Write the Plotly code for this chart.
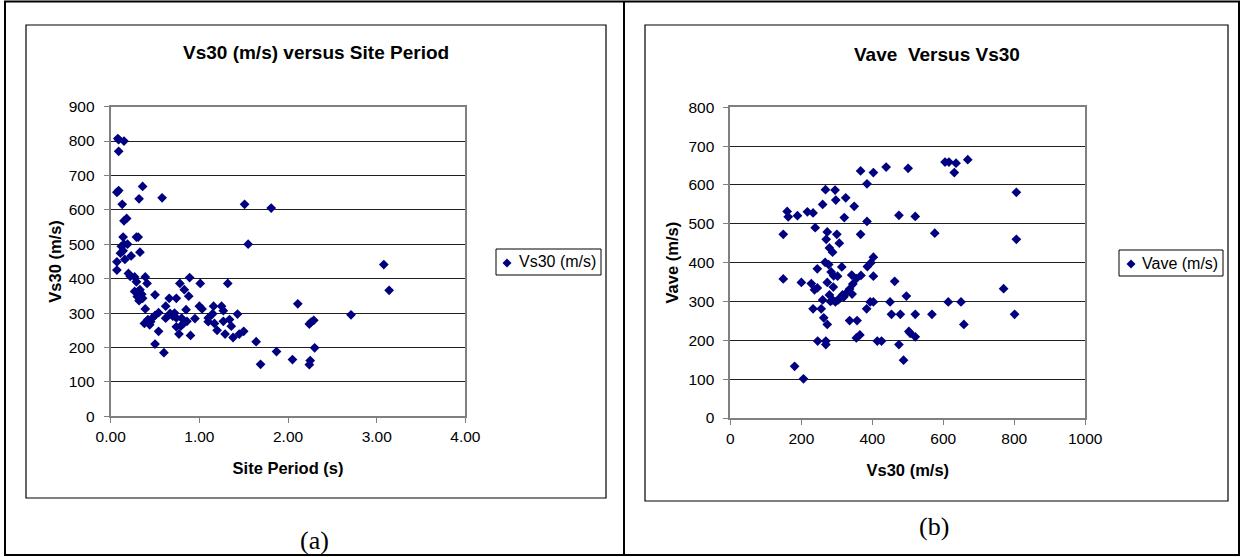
import plotly.graph_objects as go

# ---------------- data: panel (a) Vs30 vs Site Period ----------------
site_period_s = [0.08, 0.09, 0.15, 0.09, 0.07, 0.09, 0.13, 0.36, 0.32, 0.58,
                 1.51, 1.81, 1.55, 0.15, 0.18, 0.14, 0.29, 0.31, 0.33, 0.12,
                 0.15, 0.19, 0.11, 0.14, 0.16, 0.23, 0.07, 0.07, 0.20, 0.22,
                 0.27, 0.29, 0.39, 0.41, 0.27, 0.31, 0.33, 0.30, 0.32, 0.36,
                 0.39, 0.50, 0.66, 0.74, 0.78, 0.89, 0.83, 0.88, 1.01, 1.32,
                 0.38, 0.44, 0.42, 0.47, 0.50, 0.54, 0.54, 0.50, 0.60, 0.62,
                 0.62, 0.67, 0.70, 0.74, 0.74, 0.77, 0.80, 0.82, 0.85, 0.86,
                 0.90, 0.95, 1.00, 1.03, 1.10, 1.10, 1.16, 1.15, 1.17, 1.20,
                 1.25, 1.27, 1.27, 1.29, 1.34, 1.36, 1.43, 1.38, 1.45, 1.50,
                 1.64, 1.69, 1.87, 2.05, 2.11, 2.24, 2.26, 2.29, 2.30, 2.25,
                 2.24, 2.71, 3.08, 3.14, 0.35, 0.45, 0.72, 0.79]
vs30_a = [807, 804, 800, 770, 651, 656, 616, 668, 632, 635,
          616, 605, 500, 568, 575, 521, 521, 521, 477, 494,
          500, 500, 474, 481, 456, 466, 449, 425, 415, 407,
          405, 391, 405, 386, 363, 363, 368, 348, 336, 343,
          312, 353, 343, 343, 386, 403, 368, 349, 386, 386,
          270, 266, 281, 286, 293, 301, 247, 210, 185, 285,
          320, 299, 291, 286, 260, 239, 285, 270, 310, 276,
          235, 284, 320, 312, 286, 275, 320, 298, 270, 250,
          320, 307, 276, 239, 281, 262, 297, 229, 239, 247,
          217, 151, 188, 165, 327, 268, 274, 279, 199, 162,
          150, 295, 441, 366, 355, 275, 300, 262]

# ---------------- data: panel (b) Vave vs Vs30 ----------------
vs30_b = [149, 149, 160, 163, 189, 217, 233, 239, 260, 268,
          295, 297, 325, 349, 321, 367, 403, 385, 439, 501,
          605, 616, 636, 631, 669, 475, 521, 576, 806, 806,
          385, 367, 273, 270, 300, 307, 279, 288, 267, 277,
          245, 284, 314, 291, 302, 342, 355, 368, 386, 396,
          403, 403, 200, 228, 237, 245, 273, 290, 260, 279,
          288, 296, 304, 316, 327, 336, 343, 345, 233, 256,
          263, 273, 336, 357, 355, 365, 246, 269, 269, 181,
          206, 384, 394, 403, 450, 454, 479, 496, 463, 503,
          507, 521, 521, 568, 475, 488, 414, 426, 614, 650,
          658, 770, 801, 310, 320, 282]
vave_b = [473, 358, 532, 518, 521, 531, 528, 490, 550, 588,
          587, 561, 567, 545, 516, 636, 632, 603, 646, 643,
          659, 659, 656, 632, 665, 522, 519, 476, 581, 460,
          506, 473, 479, 460, 473, 450, 438, 427, 401, 395,
          384, 376, 389, 366, 365, 368, 359, 367, 390, 400,
          414, 365, 349, 346, 330, 335, 349, 337, 304, 317,
          304, 299, 304, 317, 322, 332, 319, 345, 281, 281,
          258, 241, 251, 251, 206, 214, 198, 198, 189, 133,
          101, 281, 299, 299, 299, 267, 267, 314, 352, 223,
          218, 209, 267, 267, 189, 149, 198, 198, 299, 299,
          241, 333, 267, 310, 312, 300]

a_xticks = [0, 1, 2, 3, 4]
a_yticks = [0, 100, 200, 300, 400, 500, 600, 700, 800, 900]
b_xticks = [0, 200, 400, 600, 800, 1000]
b_yticks = [0, 100, 200, 300, 400, 500, 600, 700, 800]
series_a_name = "Vs30 (m/s)"
series_b_name = "Vave (m/s)"

W, H = 1243, 557
NAVY = "#000080"
FONT = "Liberation Sans"


def px(x):
    return x / W


def py(y):
    return 1 - y / H


fig = go.Figure()
fig.add_trace(go.Scatter(
    x=site_period_s, y=vs30_a, mode="markers", name=series_a_name,
    marker=dict(symbol="diamond", size=7.5, color=NAVY),
    xaxis="x", yaxis="y", showlegend=False))
fig.add_trace(go.Scatter(
    x=vs30_b, y=vave_b, mode="markers", name=series_b_name,
    marker=dict(symbol="diamond", size=7.5, color=NAVY),
    xaxis="x2", yaxis="y2", showlegend=False))

axis_common = dict(showline=True, linecolor="#808080", linewidth=2, mirror=True,
                   ticks="outside", ticklen=5, tickcolor="#808080", tickwidth=1,
                   zeroline=False, automargin=False,
                   tickfont=dict(family=FONT, size=15.5, color="black"))

fig.update_layout(
    width=W, height=H, autosize=False,
    margin=dict(l=0, r=0, t=0, b=0),
    paper_bgcolor="white", plot_bgcolor="white",
    font=dict(family=FONT, color="black"),
    showlegend=False,
    xaxis=dict(domain=[px(110.7), px(465.4)], range=[0, 4], tickvals=a_xticks,
               tickformat=".2f", showgrid=False, anchor="y",
               title=dict(text="<b>Site Period (s)</b>", font=dict(size=16.5), standoff=19),
               **axis_common),
    yaxis=dict(domain=[py(416.3), py(106.6)], range=[0, 900], tickvals=a_yticks,
               showgrid=True, gridcolor="#202020", gridwidth=1, anchor="x",
               ticklabelstandoff=6,
               title=dict(text="<b>Vs30 (m/s)</b>", font=dict(size=16.5), standoff=3),
               **axis_common),
    xaxis2=dict(domain=[px(730.4), px(1085.2)], range=[0, 1000], tickvals=b_xticks,
                showgrid=False, anchor="y2",
                title=dict(text="<b>Vs30 (m/s)</b>", font=dict(size=16.5), standoff=19),
                **axis_common),
    yaxis2=dict(domain=[py(418), py(107.3)], range=[0, 800], tickvals=b_yticks,
                showgrid=True, gridcolor="#202020", gridwidth=1, anchor="x2",
                ticklabelstandoff=6,
                title=dict(text="<b>Vave (m/s)</b>", font=dict(size=16.5), standoff=6),
                **axis_common),
)

annotations = [
    dict(text="<b>Vs30 (m/s) versus Site Period</b>", x=px(316), y=py(53),
         font=dict(family=FONT, size=19)),
    dict(text="<b>Vave  Versus Vs30</b>", x=px(937), y=py(54),
         font=dict(family=FONT, size=19)),
    dict(text="(a)", x=px(314), y=py(540), font=dict(family="Liberation Serif", size=26)),
    dict(text="(b)", x=px(934), y=py(526), font=dict(family="Liberation Serif", size=26)),
    # legend texts
    dict(text=series_a_name, x=px(517), y=py(262), xanchor="left",
         font=dict(family=FONT, size=16)),
    dict(text=series_b_name, x=px(1140), y=py(263), xanchor="left",
         font=dict(family=FONT, size=16)),
]
for a in annotations:
    a.setdefault("xanchor", "center")
    a.update(xref="paper", yref="paper", showarrow=False, yanchor="middle")
fig.update_layout(annotations=annotations)


def diamond(cx, cy, r=4.5):
    return (f"M {px(cx - r)} {py(cy)} L {px(cx)} {py(cy - r)} "
            f"L {px(cx + r)} {py(cy)} L {px(cx)} {py(cy + r)} Z")


shapes = [
    # outer table border and divider
    dict(type="rect", x0=px(5), x1=px(1239), y0=py(555), y1=py(1.5),
         line=dict(color="black", width=2)),
    dict(type="line", x0=px(624), x1=px(624), y0=py(555), y1=py(1.5),
         line=dict(color="black", width=2)),
    # chart frames
    dict(type="rect", x0=px(26), x1=px(606), y0=py(498), y1=py(25),
         line=dict(color="black", width=1.2)),
    dict(type="rect", x0=px(645), x1=px(1228), y0=py(501), y1=py(25),
         line=dict(color="black", width=1.2)),
    # legend boxes
    dict(type="rect", x0=px(496), x1=px(601), y0=py(275), y1=py(249),
         line=dict(color="black", width=1)),
    dict(type="rect", x0=px(1119), x1=px(1223), y0=py(276), y1=py(250),
         line=dict(color="black", width=1)),
    # legend symbols
    dict(type="path", path=diamond(507, 263), fillcolor=NAVY, line=dict(width=0)),
    dict(type="path", path=diamond(1131, 264), fillcolor=NAVY, line=dict(width=0)),
]
for s in shapes:
    s.update(xref="paper", yref="paper", layer="below")
fig.update_layout(shapes=shapes)

fig.write_html("out.html")
